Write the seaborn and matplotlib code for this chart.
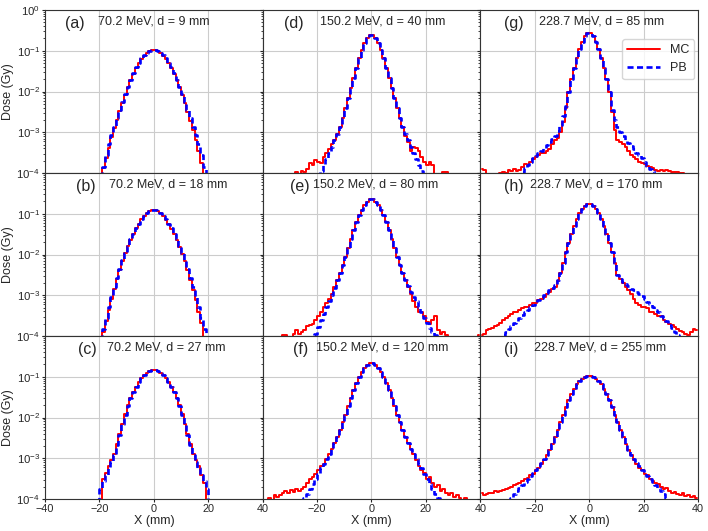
import numpy as np
import pandas as pd
import seaborn as sns
import matplotlib
matplotlib.use("Agg")
import matplotlib.pyplot as plt

# bin centres (mm), 1 mm bins
x_mm = np.arange(-39.5, 40.0, 1.0)
F = -6  # log10 dose for bins with nothing above 1e-4 Gy

# ---- log10(dose/Gy) per bin ----
a_mc = [F]*20 + [F, -3.88, -3.62, -3.38, -3.12, -2.9, -2.7, -2.48, -2.28, -2.08,
                 -1.9, -1.72, -1.56, -1.42, -1.3, -1.2, -1.12, -1.06, -1.01, -0.99,
                 -0.98, -1.01, -1.06, -1.12, -1.2, -1.3, -1.42, -1.57, -1.73, -1.9,
                 -2.09, -2.28, -2.5, -2.72, -2.95, -3.18, -3.45, -3.75, F, F] + [F]*20
a_pb = [F]*20 + [F, -3.85, -3.55, -3.3, -3.07, -2.86, -2.66, -2.46, -2.26, -2.07,
                 -1.89, -1.71, -1.55, -1.41, -1.29, -1.19, -1.11, -1.05, -1.01, -0.99,
                 -0.99, -1.01, -1.05, -1.11, -1.19, -1.29, -1.41, -1.55, -1.71, -1.89,
                 -2.07, -2.26, -2.46, -2.66, -2.86, -3.07, -3.3, -3.55, -3.85, F] + [F]*20

b_mc = [F]*20 + [F, -3.9, -3.62, -3.36, -3.1, -2.84, -2.6, -2.37, -2.16, -1.97,
                 -1.8, -1.64, -1.5, -1.36, -1.24, -1.14, -1.06, -0.99, -0.94, -0.92,
                 -0.92, -0.94, -0.99, -1.06, -1.15, -1.25, -1.37, -1.5, -1.65, -1.81,
                 -1.98, -2.17, -2.38, -2.62, -2.86, -3.12, -3.4, -3.68, F, F] + [F]*20
b_pb = [F]*20 + [F, -3.82, -3.56, -3.3, -3.05, -2.8, -2.57, -2.35, -2.14, -1.96,
                 -1.79, -1.63, -1.49, -1.36, -1.24, -1.14, -1.06, -0.99, -0.94, -0.92,
                 -0.92, -0.94, -0.99, -1.06, -1.14, -1.24, -1.36, -1.49, -1.63, -1.79,
                 -1.96, -2.14, -2.35, -2.57, -2.8, -3.05, -3.3, -3.56, -3.82, F] + [F]*20

c_mc = [F]*20 + [F, -3.5, -3.35, -3.2, -3.05, -2.9, -2.65, -2.4, -2.15, -1.92,
                 -1.7, -1.52, -1.37, -1.24, -1.13, -1.04, -0.96, -0.9, -0.86, -0.84,
                 -0.84, -0.86, -0.9, -0.96, -1.04, -1.13, -1.24, -1.37, -1.52, -1.7,
                 -1.92, -2.15, -2.4, -2.65, -2.9, -3.05, -3.2, -3.4, -3.6, F] + [F]*20
c_pb = [F]*20 + [-3.75, -3.55, -3.4, -3.25, -3.1, -2.92, -2.68, -2.42, -2.17, -1.93,
                 -1.71, -1.52, -1.37, -1.24, -1.13, -1.04, -0.96, -0.9, -0.86, -0.84,
                 -0.84, -0.86, -0.9, -0.96, -1.04, -1.13, -1.24, -1.37, -1.52, -1.71,
                 -1.93, -2.17, -2.42, -2.68, -2.92, -3.1, -3.25, -3.4, -3.55, -3.75] + [F]*20

d_mc = [F]*10 + [F, F, -3.97, F, -3.96, -3.98, -3.9, -3.75, -3.8, -3.68,
                 -3.72, -3.75, -3.6, -3.5, -3.4, -3.3, -3.2, -3.05, -2.88, -2.65,
                 -2.4, -2.15, -1.92, -1.67, -1.42, -1.18, -0.97, -0.8, -0.68, -0.61,
                 -0.61, -0.68, -0.8, -0.97, -1.18, -1.42, -1.67, -1.92, -2.15, -2.4,
                 -2.65, -2.88, -3.1, -3.25, -3.45, -3.35, -3.38, -3.45, -3.6, -3.72,
                 -3.8, -3.72, -3.8, F, F, F, -3.98, -3.98, F, F] + [F]*10
d_pb = [F]*20 + [F, -3.95, -3.8, -3.65, -3.5, -3.35, -3.2, -3.05, -2.88, -2.65,
                 -2.4, -2.15, -1.92, -1.67, -1.42, -1.18, -0.97, -0.8, -0.68, -0.61,
                 -0.61, -0.68, -0.8, -0.97, -1.18, -1.42, -1.67, -1.92, -2.15, -2.4,
                 -2.65, -2.88, -3.05, -3.2, -3.35, -3.5, -3.65, -3.8, -3.95, F] + [F]*20

e_mc = [F, F, F, F, F, F, F, -3.98, -3.98, F,
        F, -3.95, -3.85, -3.95, -3.9, -3.85, -3.75, -3.72, -3.7, -3.6,
        -3.5, -3.42, -3.3, -3.2, -3.1, -2.97, -2.8, -2.62, -2.45, -2.25,
        -2.05, -1.85, -1.62, -1.4, -1.2, -1.03, -0.9, -0.79, -0.7, -0.65,
        -0.65, -0.7, -0.79, -0.9, -1.03, -1.2, -1.4, -1.62, -1.85, -2.05,
        -2.25, -2.45, -2.62, -2.8, -2.97, -3.15, -3.3, -3.4, -3.42, -3.5,
        -3.65, -3.7, -3.6, -3.5, -3.85, -3.95, -3.9, -3.98, F, F,
        F, F, F, F, F, F, F, F, F, -3.98]
e_pb = [F]*18 + [F, -3.96,
        -3.78, -3.6, -3.45, -3.3, -3.15, -3.0, -2.82, -2.63, -2.45, -2.25,
        -2.05, -1.85, -1.62, -1.4, -1.2, -1.03, -0.9, -0.79, -0.7, -0.65,
        -0.65, -0.7, -0.79, -0.9, -1.03, -1.2, -1.4, -1.62, -1.85, -2.05,
        -2.25, -2.45, -2.62, -2.78, -2.92, -3.05, -3.15, -3.3, -3.42, -3.55,
        -3.68, -3.8, -3.9, -3.98, F, F, F, F, F, F] + [F]*10

f_mc = [F, F, -3.98, F, -3.9, -3.95, -3.9, -3.85, -3.8, -3.85,
        -3.78, -3.82, -3.75, -3.8, -3.75, -3.7, -3.6, -3.5, -3.45, -3.38,
        -3.3, -3.2, -3.13, -3.02, -2.9, -2.77, -2.62, -2.47, -2.3, -2.12,
        -1.93, -1.73, -1.52, -1.33, -1.16, -1.01, -0.89, -0.79, -0.71, -0.67,
        -0.67, -0.71, -0.79, -0.89, -1.01, -1.16, -1.33, -1.52, -1.73, -1.93,
        -2.12, -2.3, -2.47, -2.62, -2.77, -2.9, -3.05, -3.2, -3.3, -3.35,
        -3.5, -3.45, -3.6, -3.7, -3.65, -3.8, -3.75, -3.85, -3.9, -3.85,
        -3.95, -3.9, -3.98, F, -3.97, F, F, F, F, F]
f_pb = [F]*10 + [F, F, F, F, F, -3.98, -3.88, -3.75, -3.62, -3.5,
        -3.38, -3.25, -3.13, -3.02, -2.9, -2.77, -2.62, -2.47, -2.3, -2.12,
        -1.93, -1.73, -1.52, -1.33, -1.16, -1.01, -0.89, -0.79, -0.71, -0.67,
        -0.67, -0.71, -0.79, -0.89, -1.01, -1.16, -1.33, -1.52, -1.73, -1.93,
        -2.12, -2.3, -2.47, -2.62, -2.77, -2.9, -3.02, -3.13, -3.25, -3.38,
        -3.5, -3.62, -3.75, -3.88, -3.98, F, F, F, F, F] + [F]*10

g_mc = [-3.9, -3.92, F, F, F, F, F, -3.99, -3.98, -3.99,
        -3.92, -3.96, -3.9, -3.95, -3.92, -3.85, -3.78, -3.8, -3.72, -3.65,
        -3.6, -3.55, -3.52, -3.5, -3.45, -3.4, -3.3, -3.2, -3.15, -3.0,
        -2.75, -2.4, -2.02, -1.7, -1.42, -1.17, -0.95, -0.78, -0.65, -0.57,
        -0.57, -0.65, -0.78, -0.95, -1.17, -1.42, -1.7, -2.02, -2.5, -2.95,
        -3.2, -3.25, -3.28, -3.35, -3.45, -3.55, -3.6, -3.65, -3.72, -3.75,
        -3.78, -3.82, -3.85, -3.88, -3.92, -3.96, -3.92, -3.95, -3.92, -3.96,
        -3.97, -3.98, -3.98, -3.99, -3.99, F, F, F, F, F]
g_pb = [F]*10 + [F, F, F, F, F, -3.97, -3.88, -3.8, -3.72, -3.64,
        -3.58, -3.52, -3.45, -3.38, -3.32, -3.25, -3.17, -3.08, -2.98, -2.82,
        -2.6, -2.35, -2.02, -1.7, -1.42, -1.17, -0.95, -0.78, -0.65, -0.57,
        -0.57, -0.65, -0.78, -0.95, -1.17, -1.42, -1.7, -2.02, -2.45, -2.7,
        -2.88, -3.0, -3.1, -3.18, -3.26, -3.34, -3.42, -3.5, -3.56, -3.62,
        -3.72, -3.82, -3.9, -3.96, F, F, F, F, F, F] + [F]*10

h_mc = [-3.98, -3.95, -3.85, -3.82, -3.8, -3.75, -3.72, -3.68, -3.6, -3.55,
        -3.5, -3.45, -3.42, -3.4, -3.35, -3.32, -3.3, -3.28, -3.25, -3.2,
        -3.18, -3.12, -3.1, -3.05, -2.98, -2.92, -2.85, -2.8, -2.65, -2.45,
        -2.2, -1.95, -1.72, -1.5, -1.3, -1.13, -0.99, -0.88, -0.8, -0.76,
        -0.76, -0.8, -0.88, -0.99, -1.13, -1.3, -1.5, -1.72, -1.95, -2.2,
        -2.5, -2.6, -2.7, -2.8, -2.88, -2.98, -3.1, -3.2, -3.25, -3.28,
        -3.3, -3.32, -3.4, -3.42, -3.45, -3.5, -3.52, -3.6, -3.65, -3.7,
        -3.72, -3.78, -3.82, -3.88, -3.9, -3.95, -3.98, -3.9, -3.82, -3.85]
h_pb = [F, F, F, F, F, F, F, F, -3.97, -3.9,
        -3.82, -3.75, -3.68, -3.62, -3.55, -3.48, -3.42, -3.36, -3.3, -3.24,
        -3.18, -3.12, -3.06, -3.0, -2.94, -2.88, -2.82, -2.75, -2.62, -2.45,
        -2.2, -1.95, -1.72, -1.5, -1.3, -1.13, -0.99, -0.88, -0.8, -0.76,
        -0.76, -0.8, -0.88, -0.99, -1.13, -1.3, -1.5, -1.72, -1.95, -2.2,
        -2.5, -2.6, -2.67, -2.73, -2.78, -2.84, -2.88, -2.92, -2.98, -3.03,
        -3.1, -3.16, -3.22, -3.3, -3.36, -3.42, -3.5, -3.56, -3.64, -3.72,
        -3.8, -3.9, -3.98, F, F, F, F, F, F, F]

i_mc = [-3.85, -3.9, -3.88, -3.85, -3.85, -3.8, -3.82, -3.8, -3.78, -3.75,
        -3.72, -3.7, -3.65, -3.62, -3.6, -3.55, -3.5, -3.48, -3.42, -3.38,
        -3.3, -3.25, -3.15, -3.05, -2.93, -2.8, -2.65, -2.48, -2.3, -2.12,
        -1.93, -1.75, -1.58, -1.43, -1.3, -1.19, -1.11, -1.05, -1.01, -0.99,
        -0.99, -1.01, -1.05, -1.11, -1.19, -1.3, -1.43, -1.58, -1.75, -1.93,
        -2.12, -2.3, -2.48, -2.65, -2.8, -2.93, -3.05, -3.15, -3.25, -3.3,
        -3.38, -3.42, -3.5, -3.55, -3.6, -3.62, -3.7, -3.75, -3.72, -3.8,
        -3.85, -3.82, -3.88, -3.9, -3.85, -3.92, -3.9, -3.95, -3.92, -3.98]
i_pb = [F]*10 + [F, -3.97, -3.88, -3.8, -3.72, -3.65, -3.58, -3.5, -3.43, -3.36,
        -3.28, -3.2, -3.12, -3.03, -2.93, -2.8, -2.65, -2.48, -2.3, -2.12,
        -1.93, -1.75, -1.58, -1.43, -1.3, -1.19, -1.11, -1.05, -1.01, -0.99,
        -0.99, -1.01, -1.05, -1.11, -1.19, -1.3, -1.43, -1.58, -1.75, -1.93,
        -2.12, -2.3, -2.48, -2.65, -2.8, -2.93, -3.03, -3.12, -3.2, -3.28,
        -3.36, -3.43, -3.5, -3.58, -3.65, -3.72, -3.8, -3.88, -3.97, F] + [F]*10

panel_tags = ["(a)", "(b)", "(c)", "(d)", "(e)", "(f)", "(g)", "(h)", "(i)"]
panel_titles = ["70.2 MeV, d = 9 mm", "70.2 MeV, d = 18 mm", "70.2 MeV, d = 27 mm",
                "150.2 MeV, d = 40 mm", "150.2 MeV, d = 80 mm", "150.2 MeV, d = 120 mm",
                "228.7 MeV, d = 85 mm", "228.7 MeV, d = 170 mm", "228.7 MeV, d = 255 mm"]
mc_series = [a_mc, b_mc, c_mc, d_mc, e_mc, f_mc, g_mc, h_mc, i_mc]
pb_series = [a_pb, b_pb, c_pb, d_pb, e_pb, f_pb, g_pb, h_pb, i_pb]

x_ticks = [-40, -20, 0, 20, 40]
y_ticks = [1e-4, 1e-3, 1e-2, 1e-1, 1e0]
y_tick_labels = [r"$\mathdefault{10^{-4}}$", r"$\mathdefault{10^{-3}}$", r"$\mathdefault{10^{-2}}$",
                 r"$\mathdefault{10^{-1}}$", r"$\mathdefault{10^{0}}$"]

# ---- layout / style ----
tag_x = [0.09, 0.142, 0.153, 0.10, 0.124, 0.139, 0.107, 0.111, 0.111]
title_x = [0.245, 0.295, 0.283, 0.263, 0.231, 0.243, 0.271, 0.226, 0.245]

sns.set_style("ticks")
plt.rcParams["font.family"] = ["Liberation Sans", "DejaVu Sans"]
plt.rcParams["axes.edgecolor"] = "#333333"
plt.rcParams["xtick.major.size"] = 2.0
plt.rcParams["ytick.major.size"] = 2.0
plt.rcParams["ytick.minor.size"] = 1.5
plt.rcParams["xtick.major.pad"] = 1.5
plt.rcParams["ytick.major.pad"] = 1.5

fig, axes = plt.subplots(3, 3, figsize=(7.08, 5.31), dpi=100)
fig.subplots_adjust(left=45/708, right=698/708, top=1-10/531, bottom=1-499/531,
                    hspace=0, wspace=0)

for k in range(9):
    r, c = k % 3, k // 3
    ax = axes[r, c]
    df = pd.DataFrame({"x": x_mm,
                       "MC": 10.0 ** np.asarray(mc_series[k], dtype=float),
                       "PB": 10.0 ** np.asarray(pb_series[k], dtype=float)})
    sns.lineplot(data=df, x="x", y="MC", ax=ax, color="#ff0000", lw=1.4,
                 drawstyle="steps-mid", label="MC", legend=False)
    sns.lineplot(data=df, x="x", y="PB", ax=ax, color="#0000ff", lw=1.9,
                 linestyle=(0, (2.3, 1.3)), drawstyle="steps-mid", label="PB", legend=False)
    ax.set_yscale("log")
    ax.set_xlim(-40, 40)
    ax.set_ylim(1e-4, 1)
    ax.grid(True, which="major", color="#cccccc", lw=0.8)
    ax.set_axisbelow(True)

    if r == 2:
        xl = ["\u221240", "\u221220", "0", "20", "40"] if c == 0 else ["", "\u221220", "0", "20", "40"]
        ax.set_xticks(x_ticks, labels=xl)
        ax.set_xlabel("X (mm)", fontsize=9, labelpad=1)
    else:
        ax.set_xticks(x_ticks, labels=[""] * 5)
        ax.set_xlabel("")
    if c == 0:
        yl = list(y_tick_labels) if r == 0 else y_tick_labels[:4] + [""]
        ax.set_yticks(y_ticks, labels=yl)
        ax.set_ylabel("Dose (Gy)", fontsize=9, labelpad=2)
    else:
        ax.set_yticks(y_ticks, labels=[""] * 5)
        ax.set_ylabel("")
    ax.yaxis.set_minor_formatter(matplotlib.ticker.NullFormatter())
    ax.tick_params(axis="x", which="both", labelsize=7.8)
    ax.tick_params(axis="y", which="both", labelsize=8.2)

    ax.text(tag_x[k], 0.89, panel_tags[k], transform=ax.transAxes, fontsize=11.5,
            va="baseline", ha="left")
    ax.text(title_x[k], 0.91, panel_titles[k], transform=ax.transAxes, fontsize=9,
            va="baseline", ha="left")

    if k == 6:
        ax.legend(loc="upper right", bbox_to_anchor=(1.0, 0.845), fontsize=9,
                  handlelength=2.6, borderaxespad=0.3)
    elif ax.get_legend() is not None:
        ax.get_legend().remove()

fig.savefig("out.png", dpi=100)
